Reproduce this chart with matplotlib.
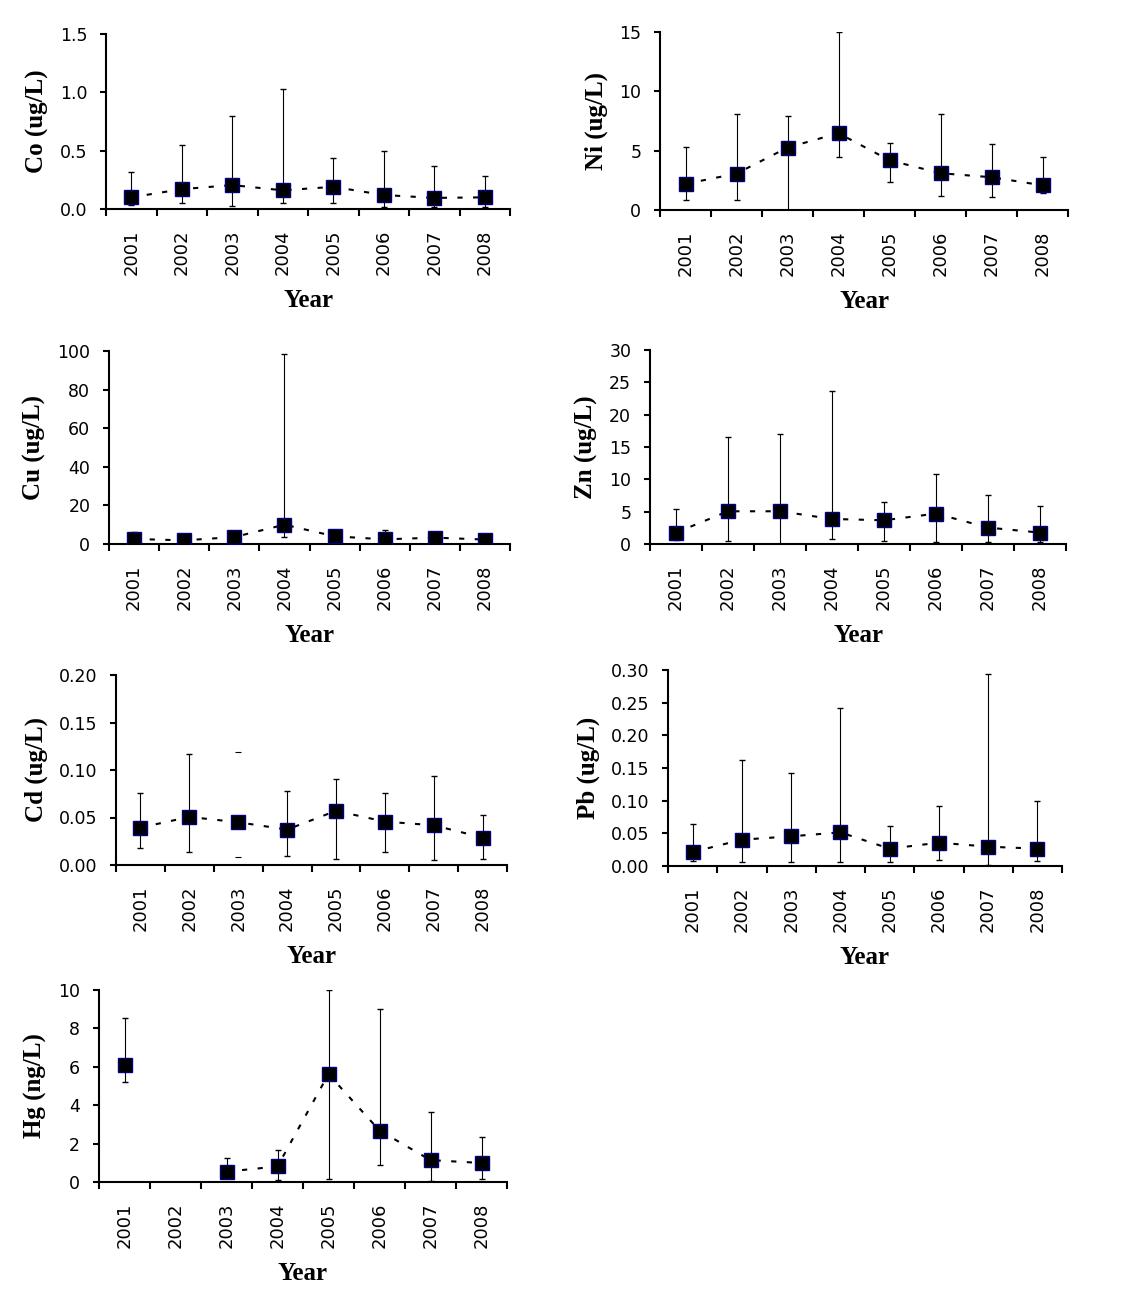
import numpy as np
import matplotlib
matplotlib.use("Agg")
import matplotlib.pyplot as plt

years = ["2001", "2002", "2003", "2004", "2005", "2006", "2007", "2008"]

co_mean = [0.10, 0.17, 0.205, 0.16, 0.19, 0.12, 0.095, 0.10]
co_min = [0.035, 0.05, 0.03, 0.05, 0.05, 0.02, 0.02, 0.02]
co_max = [0.32, 0.545, 0.80, 1.025, 0.435, 0.50, 0.37, 0.28]

ni_mean = [2.2, 3.07, 5.26, 6.47, 4.19, 3.1, 2.76, 2.08]
ni_min = [0.82, 0.82, 0.0, 4.47, 2.34, 1.15, 1.07, 1.46]
ni_max = [5.3, 8.13, 7.9, 15.0, 5.63, 8.05, 5.54, 4.47]

cu_mean = [2.6, 1.9, 3.6, 10.0, 4.0, 2.4, 3.3, 2.3]
cu_min = [1.5, 1.0, 2.5, 3.5, 2.5, 1.5, 2.0, 1.5]
cu_max = [6.0, 3.0, 5.0, 98.3, 5.5, 7.5, 5.0, 3.5]

zn_mean = [1.76, 5.06, 5.06, 3.87, 3.67, 4.7, 2.54, 1.76]
zn_min = [0.57, 0.52, 0.0, 0.83, 0.52, 0.36, 0.36, 0.36]
zn_max = [5.4, 16.5, 17.0, 23.6, 6.57, 10.9, 7.65, 5.84]

cd_mean = [0.0394, 0.0506, 0.045, 0.0373, 0.057, 0.0457, 0.0418, 0.0289]
cd_min = [0.0183, 0.014, 0.008, 0.0099, 0.0067, 0.014, 0.0057, 0.0067]
cd_max = [0.0753, 0.117, 0.1185, 0.0784, 0.0904, 0.0763, 0.0932, 0.0531]

pb_mean = [0.0214, 0.0403, 0.0454, 0.0515, 0.0265, 0.0357, 0.0296, 0.0265]
pb_min = [0.0072, 0.0061, 0.006, 0.006, 0.006, 0.0087, 0.002, 0.0077]
pb_max = [0.0638, 0.162, 0.143, 0.242, 0.0607, 0.0923, 0.294, 0.100]

hg_mean = [6.1, np.nan, 0.54, 0.81, 5.62, 2.68, 1.14, 0.99]
hg_min = [5.2, np.nan, 0.3, 0.12, 0.16, 0.9, 0.03, 0.16]
hg_max = [8.56, np.nan, 1.23, 1.66, 10.0, 9.0, 3.64, 2.36]

panels = [
    ("Co (ug/L)", co_mean, co_min, co_max, [0, 0.5, 1.0, 1.5], "%.1f", []),
    ("Ni (ug/L)", ni_mean, ni_min, ni_max, [0, 5, 10, 15], "%d", []),
    ("Cu (ug/L)", cu_mean, cu_min, cu_max, [0, 20, 40, 60, 80, 100], "%d", []),
    ("Zn (ug/L)", zn_mean, zn_min, zn_max, [0, 5, 10, 15, 20, 25, 30], "%d", []),
    ("Cd (ug/L)", cd_mean, cd_min, cd_max, [0, 0.05, 0.10, 0.15, 0.20], "%.2f", [2]),
    ("Pb (ug/L)", pb_mean, pb_min, pb_max, [0, 0.05, 0.10, 0.15, 0.20, 0.25, 0.30], "%.2f", []),
    ("Hg (ng/L)", hg_mean, hg_min, hg_max, [0, 2, 4, 6, 8, 10], "%d", []),
]

# axes boxes in pixels: left, right, top, bottom
boxes = [
    (106, 510, 34, 209), (660, 1068, 32, 210),
    (109, 510, 351, 544), (650, 1066, 350, 544),
    (116, 507, 675, 865), (668, 1062, 670, 866),
    (99, 507, 990, 1182),
]

W, H = 1125, 1310
fig = plt.figure(figsize=(W / 100, H / 100), dpi=100)

for (label, mean, lo, hi, yt, fmt, nostem), (l, r, t, b) in zip(panels, boxes):
    ax = fig.add_axes([l / W, 1 - b / H, (r - l) / W, (b - t) / H])
    x = np.arange(len(years)) + 0.5
    mean = np.array(mean, dtype=float)
    lo = np.array(lo, dtype=float)
    hi = np.array(hi, dtype=float)
    err_lo = mean - lo
    err_hi = hi - mean
    # in the Cd panel the 2003 bar shows only its caps
    for i in nostem:
        err_lo[i] = 0
        err_hi[i] = 0
    ax.errorbar(x, mean, yerr=[err_lo, err_hi], fmt="s", color="black",
                ms=9.5, mfc="black", mec="#000080", mew=1,
                ecolor="black", elinewidth=0.8, capsize=2.5, capthick=0.8,
                linestyle=(0, (2.5, 5)), lw=1.5, zorder=3)
    for i in nostem:
        ax.plot([x[i], x[i]], [lo[i], hi[i]], "_", color="black", ms=5, mew=0.8)

    ax.set_xlim(0, len(years))
    ax.set_ylim(0, yt[-1])
    ax.set_yticks(yt)
    ax.set_yticklabels([fmt % v for v in yt])
    ax.set_xticks(x)
    ax.set_xticklabels(years, rotation=90)
    ax.set_xticks(np.arange(len(years) + 1), minor=True)
    ax.tick_params(axis="x", which="major", length=0, pad=15, labelsize=13)
    ax.tick_params(axis="x", which="minor", length=5, width=1.5, direction="out")
    ax.tick_params(axis="y", length=4.5, width=1.5, direction="out", pad=9, labelsize=12.5)
    for s in ["top", "right"]:
        ax.spines[s].set_visible(False)
    for s in ["left", "bottom"]:
        ax.spines[s].set_linewidth(1.5)
    ax.set_ylabel(label, fontfamily="Liberation Serif", fontweight="bold",
                  fontsize=18, labelpad=8)
    ax.set_xlabel("Year", fontfamily="Liberation Serif", fontweight="bold",
                  fontsize=18, labelpad=10)

plt.savefig("out.png", dpi=100)
